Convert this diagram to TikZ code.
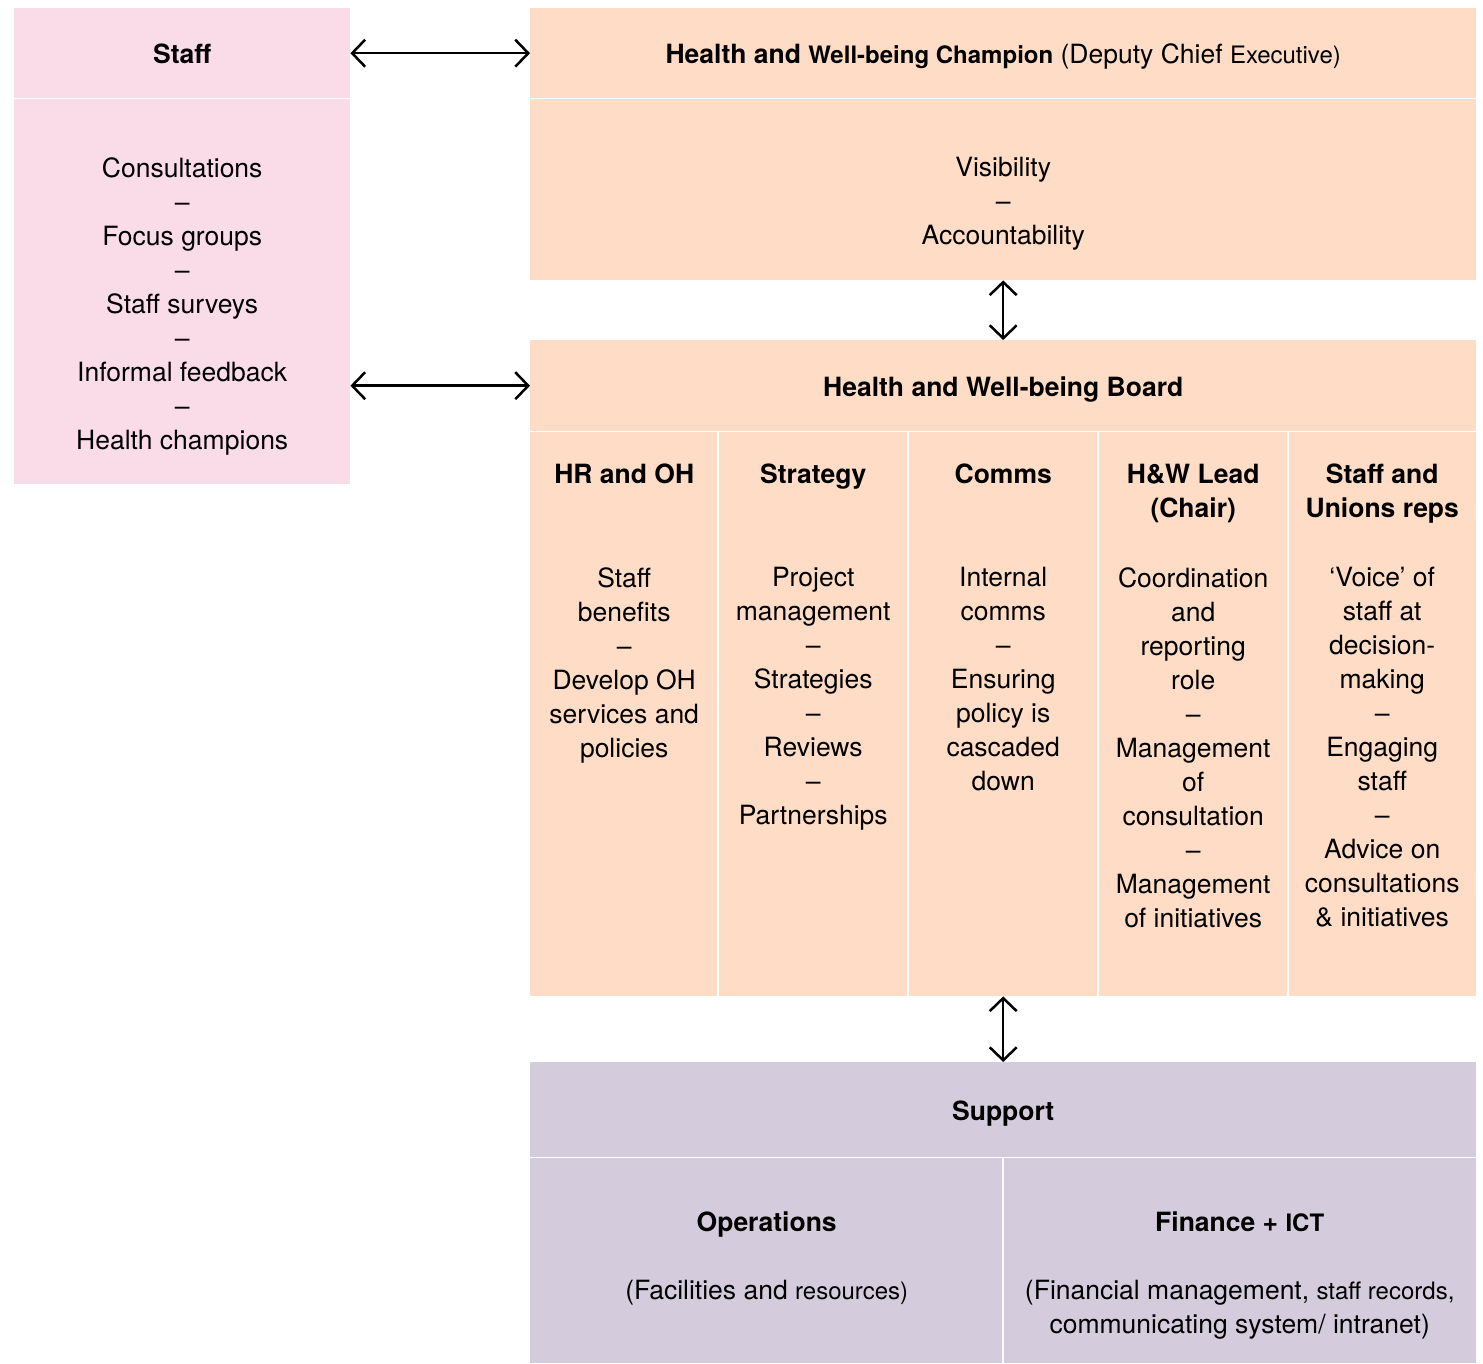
\documentclass[tikz,border=0pt]{standalone}
\usepackage{fontspec}
\setmainfont{TeX Gyre Heros}
\usetikzlibrary{arrows.meta, positioning}
\definecolor{staffpink}{RGB}{250,220,232}
\definecolor{boardpeach}{RGB}{254,220,198}
\definecolor{supportlilac}{RGB}{212,203,221}
\newcommand\mainsize{\fontsize{26.5}{34}\selectfont}
\newcommand\smallpart[1]{{\fontsize{24}{34}\selectfont #1}}
\tikzset{
    orgchart/.style={x=1pt, y=-1pt, font=\mainsize},
    panel/.style={rectangle, inner sep=0pt, anchor=north west, align=center, font=\mainsize\bfseries,
        text height=21pt, text depth=0pt},
    title/.style={font=\mainsize\bfseries, align=center, inner sep=0pt},
    entry/.style={font=\mainsize, align=center, inner sep=0pt},
    divider/.style={draw=white, line width=1.5pt},
    % open barbs at both ends, tips touching the boxes
    link/.style={{Straight Barb[length=13pt,width=27pt]}-{Straight Barb[length=13pt,width=27pt]}, line width=2.5pt},
}

\begin{document}
\begin{tikzpicture}[orgchart]
    \useasboundingbox (0,0) rectangle (1483,1363);

    % staff side
    \node[panel, fill=staffpink, minimum width=336pt, minimum height=90pt]  (staffhead) at (14,8)  {Staff};
    \node[panel, fill=staffpink, minimum width=336pt, minimum height=386pt] (staffbody) at (14,98) {};

    % champion
    \node[panel, fill=boardpeach, minimum width=946pt, minimum height=90pt]  (champhead) at (530,8)
        {Health and \smallpart{Well-being Champion} {\mdseries (Deputy Chief \smallpart{Executive)}}};
    \node[panel, fill=boardpeach, minimum width=946pt, minimum height=182pt] (champbody) at (530,98) {};

    % board
    \node[panel, fill=boardpeach, minimum width=946pt, minimum height=91pt] (boardhead) at (530,340) {Health and Well-being Board};
    \node[panel, fill=boardpeach, minimum width=188pt, minimum height=565pt] (hrcol)    at (530,431)  {};
    \node[panel, fill=boardpeach, minimum width=190pt, minimum height=565pt] (stratcol) at (718,431)  {};
    \node[panel, fill=boardpeach, minimum width=190pt, minimum height=565pt] (commscol) at (908,431)  {};
    \node[panel, fill=boardpeach, minimum width=190pt, minimum height=565pt] (leadcol)  at (1098,431) {};
    \node[panel, fill=boardpeach, minimum width=188pt, minimum height=565pt] (unioncol) at (1288,431) {};

    % support
    \node[panel, fill=supportlilac, minimum width=946pt, minimum height=95pt]  (supporthead) at (530,1062) {Support};
    \node[panel, fill=supportlilac, minimum width=473pt, minimum height=206pt] (opscol) at (530,1157)  {};
    \node[panel, fill=supportlilac, minimum width=473pt, minimum height=206pt] (fincol) at (1003,1157) {};

    % white dividers
    \draw[divider] (staffhead.south west) -- (staffhead.south east);
    \draw[divider] (champhead.south west) -- (champhead.south east);
    \draw[divider] (boardhead.south west) -- (boardhead.south east);
    \draw[divider] (supporthead.south west) -- (supporthead.south east);
    \draw[divider] (stratcol.north west) -- (stratcol.south west);
    \draw[divider] (commscol.north west) -- (commscol.south west);
    \draw[divider] (leadcol.north west) -- (leadcol.south west);
    \draw[divider] (unioncol.north west) -- (unioncol.south west);
    \draw[divider] (fincol.north west) -- (fincol.south west);

    % texts
    \node[entry, below=59pt of staffbody.north] (stafflist)
        {Consultations\\–\\Focus groups\\–\\Staff surveys\\–\\Informal feedback\\–\\Health champions};
    \node[entry, below=59pt of champbody.north] (champlist) {Visibility\\–\\Accountability};

    \node[title, below=33pt of hrcol.north]    (hrtitle)    {HR and OH};
    \node[title, below=33pt of stratcol.north] (strattitle) {Strategy};
    \node[title, below=33pt of commscol.north] (commstitle) {Comms};
    \node[title, below=33pt of leadcol.north]  (leadtitle)  {H\&W Lead\\(Chair)};
    \node[title, below=33pt of unioncol.north] (uniontitle) {Staff and\\Unions reps};

    \node[entry, below=136pt of hrcol.north]    (hrlist)    {Staff\\benefits\\–\\Develop OH\\services and\\policies};
    \node[entry, below=136pt of stratcol.north] (stratlist) {Project\\management\\–\\Strategies\\–\\Reviews\\–\\Partnerships};
    \node[entry, below=136pt of commscol.north] (commslist) {Internal\\comms\\–\\Ensuring\\policy is\\cascaded\\down};
    \node[entry, below=136pt of leadcol.north]  (leadlist)
        {Coordination\\and\\reporting\\role\\–\\Management\\of\\consultation\\–\\Management\\of initiatives};
    \node[entry, below=136pt of unioncol.north] (unionlist)
        {‘Voice’ of\\staff at\\decision-\\making\\–\\Engaging\\staff\\–\\Advice on\\consultations\\\& initiatives};

    \node[title, below=55pt of opscol.north]  (opstitle) {Operations};
    \node[entry, below=123pt of opscol.north] (opsnote)  {(Facilities and \smallpart{resources)}};
    \node[title, below=55pt of fincol.north]  (fintitle) {Finance + \smallpart{ICT}};
    \node[entry, below=123pt of fincol.north] (finnote)
        {(Financial management, \smallpart{staff records,}\\communicating system/ intranet)};

    % links
    \draw[link] (staffhead.east) -- (champhead.west);
    \draw[link] (boardhead.west -| staffbody.east) -- (boardhead.west);
    \draw[link] (champbody.south) -- (boardhead.north);
    \draw[link] (commscol.south) -- (supporthead.north);
\end{tikzpicture}
\end{document}
